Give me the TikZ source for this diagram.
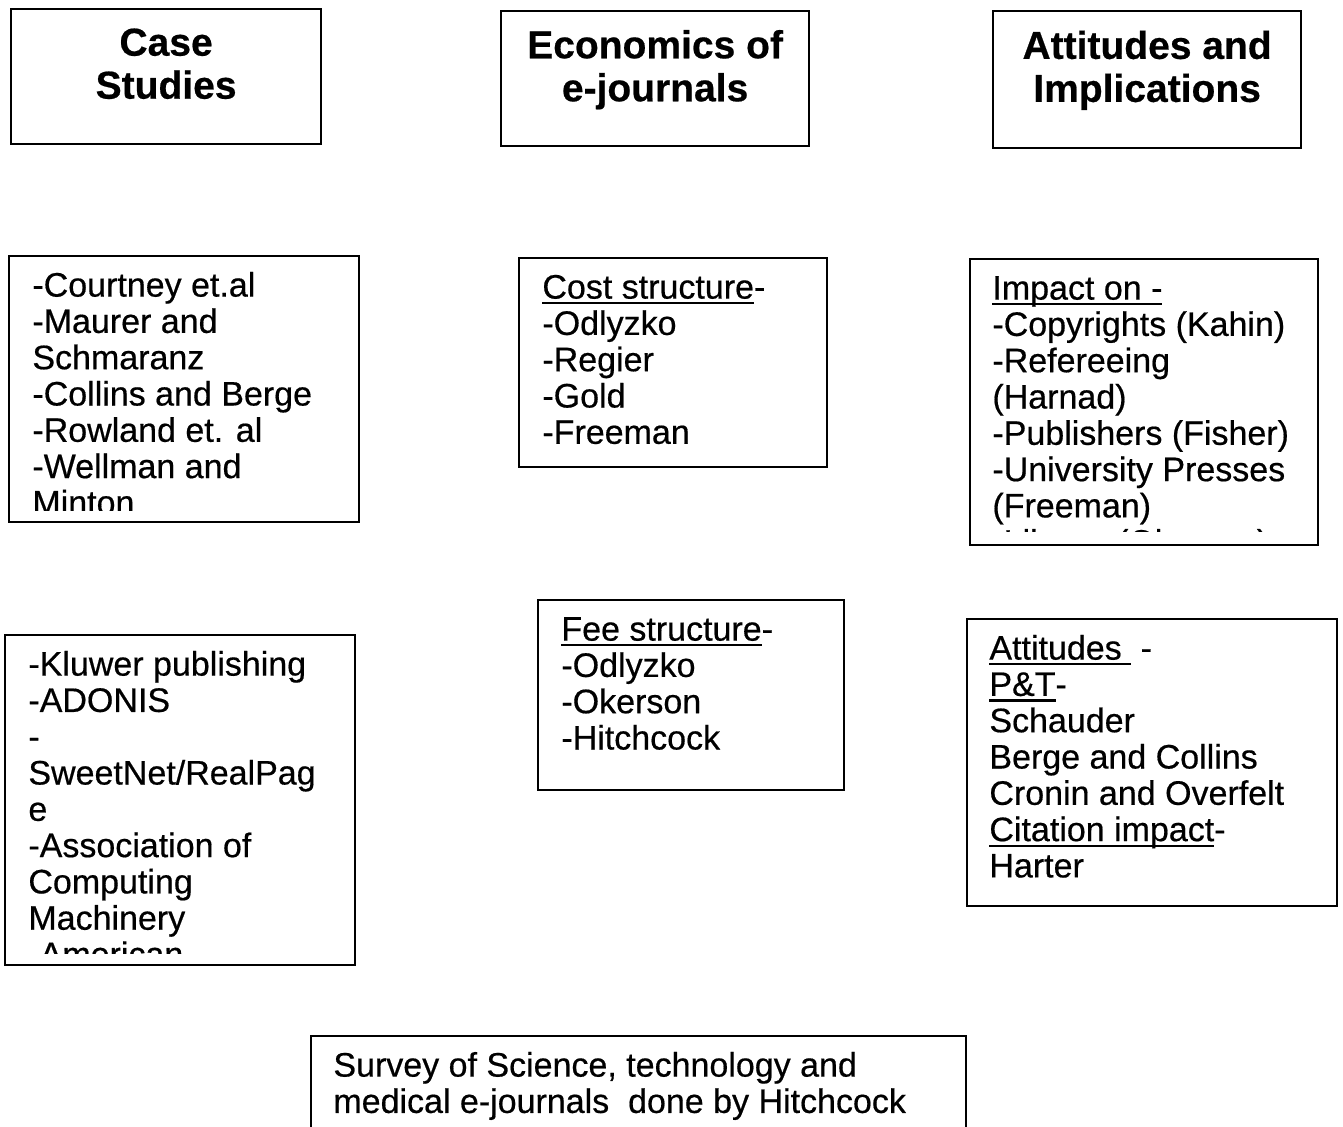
\documentclass[tikz,border=0pt]{standalone}
\usepackage{fontspec}
\setmainfont{Liberation Sans}[FakeBold=0.5]

% underline at a fixed depth, whatever the letters below the baseline
\newsavebox\ulbox
\newcommand\ulin[1]{\sbox\ulbox{#1}\rlap{\rule[-2.9pt]{\wd\ulbox}{1.2pt}}\usebox\ulbox}

\begin{document}
\begin{tikzpicture}[x=0.5pt,y=-0.5pt,
  frame/.style={draw, line width=1.1pt, inner sep=0pt, anchor=north west},
  head/.style={anchor=north, inner sep=0pt, align=center,
    font=\fontsize{19.5}{21.5}\selectfont\bfseries},
  body/.style={anchor=north west, inner sep=0pt, align=left,
    font=\fontsize{17}{18.15}\selectfont}]

\useasboundingbox (0,0) rectangle (1343,1127);
\clip (0,0) rectangle (1343,1127);

% ---- column headings ----
\node[frame, minimum width=155pt, minimum height=67.5pt] (hcase) at (10,8) {};
\node[head] (hcaset) at ([yshift=-8.6pt]hcase.north) {\strut Case\\Studies};

\node[frame, minimum width=154pt, minimum height=67.5pt] (hecon) at (500,10) {};
\node[head] (hecont) at ([yshift=-8.9pt]hecon.north) {\strut Economics of\\e-journals};

\node[frame, minimum width=154pt, minimum height=68.5pt] (hatt) at (992,10) {};
\node[head] (hattt) at ([yshift=-9.2pt]hatt.north) {\strut Attitudes and\\Implications};

% ---- second row ----
\node[frame, minimum width=175pt, minimum height=133pt] (cs1) at (8,255) {};
\begin{scope}
  \clip ([yshift=6.5pt]cs1.south west) rectangle (cs1.north east);
  \node[body] (cs1t) at ([shift={(12pt,-7.9pt)}]cs1.north west)
    {\strut -Courtney et.al\\-Maurer and\\Schmaranz\\-Collins and Berge\\-Rowland et. al\\-Wellman and\\Minton};
\end{scope}

\node[frame, minimum width=154pt, minimum height=104.5pt] (ec1) at (518,257) {};
\node[body] (ec1t) at ([shift={(12pt,-7.9pt)}]ec1.north west)
  {\strut\ulin{Cost structure}-\\-Odlyzko\\-Regier\\-Gold\\-Freeman};

\node[frame, minimum width=174pt, minimum height=143pt] (im1) at (969,258) {};
\begin{scope}
  \clip ([yshift=7.2pt]im1.south west) rectangle (im1.north east);
  \node[body] (im1t) at ([shift={(11.5pt,-7.9pt)}]im1.north west)
    {\strut\ulin{Impact on -}\\-Copyrights (Kahin)\\-Refereeing\\(Harnad)\\-Publishers (Fisher)\\-University Presses\\(Freeman)\\-Library (Okerson)};
\end{scope}

% ---- third row ----
\node[frame, minimum width=175pt, minimum height=165pt] (cs2) at (4,634) {};
\begin{scope}
  \clip ([yshift=6.5pt]cs2.south west) rectangle (cs2.north east);
  \node[body] (cs2t) at ([shift={(12pt,-7.9pt)}]cs2.north west)
    {\strut -Kluwer publishing\\-ADONIS\\-\\SweetNet/RealPag\\e\\-Association of\\Computing\\Machinery\\-American};
\end{scope}

\node[frame, minimum width=153pt, minimum height=95pt] (ec2) at (537,599) {};
\node[body] (ec2t) at ([shift={(12pt,-7.9pt)}]ec2.north west)
  {\strut\ulin{Fee structure}-\\-Odlyzko\\-Okerson\\-Hitchcock};

\node[frame, minimum width=185pt, minimum height=143.5pt] (im2) at (966,618) {};
\node[body] (im2t) at ([shift={(11.5pt,-7.9pt)}]im2.north west)
  {\strut\ulin{Attitudes\ }\ -\\\ulin{P\&T}-\\Schauder\\Berge and Collins\\Cronin and Overfelt\\\ulin{Citation impact}-\\Harter};

% ---- survey box, running off the bottom ----
\node[frame, minimum width=327.5pt, minimum height=60pt] (surv) at (310,1035) {};
\node[body] (survt) at ([shift={(11.5pt,-7.9pt)}]surv.north west)
  {\strut Survey of Science, technology and\\medical e-journals\ \ done by Hitchcock};

\end{tikzpicture}
\end{document}
